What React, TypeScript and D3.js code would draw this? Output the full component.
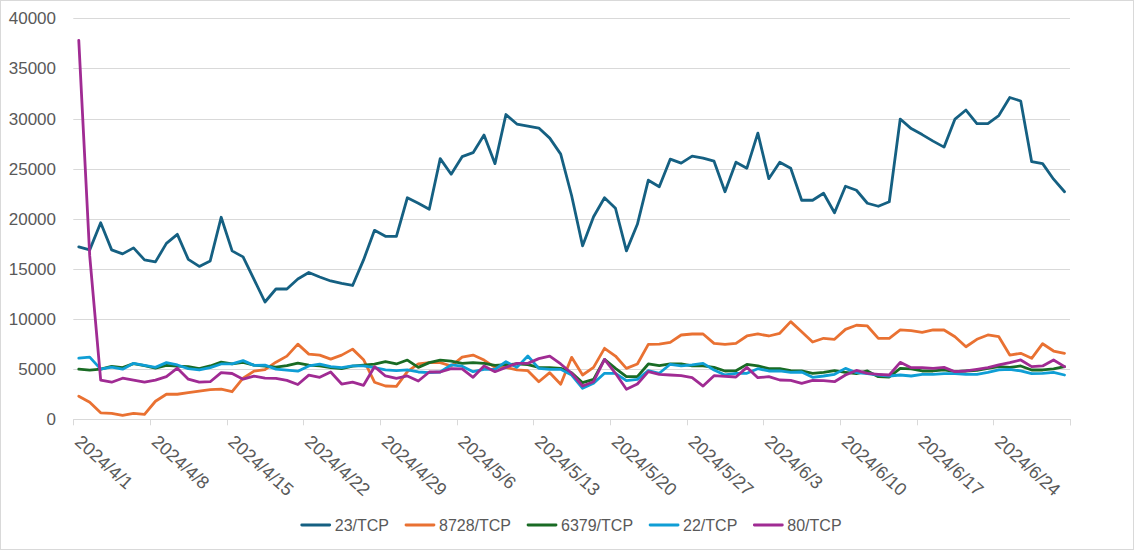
import { useEffect, useRef } from 'react';
import * as d3 from 'd3';

const W = 1134;
const H = 550;

// one point per day, 2024/4/1 .. 2024/6/30
const days = d3.timeDay.range(new Date(2024, 3, 1), new Date(2024, 6, 1));
const tickLabels = [
  '2024/4/1', '2024/4/8', '2024/4/15', '2024/4/22', '2024/4/29', '2024/5/6', '2024/5/13',
  '2024/5/20', '2024/5/27', '2024/6/3', '2024/6/10', '2024/6/17', '2024/6/24',
];
const yTicks = [0, 5000, 10000, 15000, 20000, 25000, 30000, 35000, 40000];

const port23 = [
  17200, 16900, 19600, 16900, 16500, 17100, 15900, 15700, 17550, 18450, 15950, 15250, 15800, 20150,
  16800, 16200, 13950, 11700, 13000, 13000, 14000, 14650, 14200, 13800, 13550, 13350, 15900, 18850,
  18250, 18250, 22100, 21550, 20950, 26000, 24450, 26200, 26600, 28350, 25500, 30400, 29450, 29250,
  29050, 28050, 26450, 22300, 17300, 20200, 22100, 21050, 16800, 19450, 23850, 23200, 25950, 25550,
  26250, 26050, 25750, 22700, 25650, 25050, 28550, 24000, 25650, 25050, 21850, 21850, 22550, 20600,
  23250, 22850, 21550, 21250, 21700, 29950, 29000, 28400, 27750, 27150, 29950, 30850, 29500, 29500,
  30300, 32100, 31750, 25700, 25500, 23950, 22700,
];
const port8728 = [
  2300, 1700, 650, 600, 400, 600, 500, 1800, 2500, 2500, 2650, 2800, 2950, 3000,
  2750, 4100, 4800, 4950, 5700, 6300, 7500, 6500, 6400, 6000, 6400, 7000, 5950, 3700,
  3320, 3290, 4750, 5520, 5650, 5650, 5320, 6200, 6410, 5910, 5180, 5180, 4920, 4850,
  3750, 4650, 3490, 6180, 4420, 5180, 7080, 6310, 5080, 5520, 7480, 7500, 7680, 8410,
  8510, 8510, 7580, 7480, 7580, 8310, 8510, 8310, 8580, 9740, 8740, 7710, 8080, 7980,
  8970, 9380, 9310, 8070, 8070, 8910, 8840, 8680, 8910, 8910, 8240, 7240, 7980, 8410,
  8240, 6410, 6580, 6080, 7540, 6810, 6580,
];
const port6379 = [
  5000, 4900, 5000, 5280, 5160, 5550, 5350, 5100, 5380, 5300, 5250, 5050, 5320, 5700,
  5520, 5670, 5400, 5300, 5200, 5350, 5600, 5400, 5320, 5150, 5050, 5300, 5400, 5500,
  5750, 5520, 5910, 5180, 5650, 5910, 5810, 5580, 5650, 5580, 5380, 5450, 5520, 5450,
  5180, 5150, 5080, 4650, 3650, 3990, 5980, 5080, 4250, 4250, 5520, 5350, 5520, 5520,
  5320, 5320, 5180, 4820, 4850, 5480, 5320, 5050, 5050, 4850, 4820, 4590, 4690, 4850,
  4690, 4550, 4820, 4250, 4220, 5080, 5020, 4820, 4820, 4920, 4750, 4820, 4880, 5080,
  5250, 5180, 5320, 4920, 4920, 5020, 5250,
];
const port22 = [
  6100, 6200, 5000, 5200, 5000, 5580, 5380, 5180, 5650, 5420, 5050, 4920, 5150, 5520,
  5520, 5850, 5380, 5400, 5000, 4900, 4800, 5320, 5500, 5250, 5150, 5320, 5330, 5150,
  4920, 4850, 4920, 4720, 4650, 4720, 5420, 5300, 4750, 4980, 4980, 5750, 5180, 6310,
  5080, 4980, 4980, 4420, 3090, 3590, 4590, 4590, 3850, 3990, 4850, 4590, 5490, 5320,
  5420, 5580, 4920, 4420, 4590, 4590, 5050, 4820, 4820, 4690, 4720, 4190, 4320, 4490,
  5080, 4650, 4550, 4420, 4320, 4420, 4320, 4490, 4490, 4550, 4550, 4490, 4490, 4680,
  4920, 4980, 4820, 4550, 4580, 4680, 4420,
];
const port80 = [
  37800, 16300, 3900, 3700, 4100, 3900, 3700, 3900, 4250, 5100, 4000, 3700, 3750, 4650,
  4570, 4000, 4300, 4100, 4090, 3880, 3470, 4400, 4190, 4720, 3520, 3700, 3390, 5250,
  4320, 4090, 4320, 3820, 4720, 4720, 5050, 5030, 4190, 5320, 4750, 5180, 5580, 5580,
  6050, 6310, 5520, 4590, 3320, 3750, 5980, 4590, 2990, 3520, 4750, 4480, 4420, 4350,
  4150, 3320, 4350, 4290, 4220, 5180, 4150, 4250, 3920, 3890, 3590, 3890, 3850, 3750,
  4420, 4870, 4580, 4490, 4420, 5680, 5150, 5150, 5080, 5180, 4750, 4820, 4980, 5150,
  5420, 5650, 5920, 5250, 5320, 5920, 5250,
];

const seriesNames = ['23/TCP', '8728/TCP', '6379/TCP', '22/TCP', '80/TCP'];
const seriesValues = [port23, port8728, port6379, port22, port80];
const colors = ['#156082', '#E97132', '#196B24', '#0F9ED5', '#A02B93'];

const FONT = '"Liberation Sans", Arial, sans-serif';

export default function App() {
  const svgRef = useRef<SVGSVGElement>(null);

  useEffect(() => {
    if (!svgRef.current) return;
    const svg = d3.select(svgRef.current);
    svg.selectAll('*').remove();

    const left = 73.3;
    const right = 1070;
    const top = 18.3;
    const bottom = 419.3;

    const x = d3.scaleBand<number>().domain(days.map((_, i) => i)).range([left, right]).padding(0);
    const y = d3.scaleLinear().domain([0, 40000]).range([bottom, top]);
    const cx = (i: number) => (x(i) ?? 0) + x.bandwidth() / 2;

    svg.append('rect').attr('x', 0.5).attr('y', 0.5).attr('width', W - 1).attr('height', H - 1)
      .attr('fill', '#fff').attr('stroke', '#d9d9d9');

    // gridlines + y labels
    const grid = svg.append('g');
    grid.selectAll('line').data(yTicks).join('line')
      .attr('x1', left).attr('x2', right)
      .attr('y1', (d) => Math.round(y(d)) + 0.5).attr('y2', (d) => Math.round(y(d)) + 0.5)
      .attr('stroke', '#d9d9d9').attr('stroke-width', 1);
    grid.selectAll('text').data(yTicks).join('text')
      .attr('x', 56).attr('y', (d) => y(d)).attr('dy', '0.35em')
      .attr('text-anchor', 'end').attr('font-family', FONT).attr('font-size', 17)
      .attr('fill', '#595959').text((d) => d);

    // x ticks every 7 days, plus the end of the axis
    const tickIdx = d3.range(0, days.length + 1, 7);
    const tickX = (i: number) => (i < days.length ? (x(i) ?? 0) : right);
    svg.append('g').selectAll('line').data([...tickIdx, days.length]).join('line')
      .attr('x1', (d) => Math.round(tickX(d)) + 0.5).attr('x2', (d) => Math.round(tickX(d)) + 0.5)
      .attr('y1', bottom).attr('y2', bottom + 6)
      .attr('stroke', '#d9d9d9');

    svg.append('g').selectAll('text').data(tickLabels).join('text')
      .attr('transform', (_, k) => `translate(${cx(k * 7) - 5},${bottom + 24}) rotate(42)`)
      .attr('font-family', FONT).attr('font-size', 18).attr('fill', '#595959')
      .text((d) => d);

    // series
    const line = d3.line<number>().x((_, i) => cx(i)).y((d) => y(d));
    svg.append('g').selectAll('path').data(seriesValues).join('path')
      .attr('d', (d) => line(d))
      .attr('fill', 'none')
      .attr('stroke', (_, i) => colors[i])
      .attr('stroke-width', 2.8)
      .attr('stroke-linejoin', 'round')
      .attr('stroke-linecap', 'round');

    // legend, centred under the plot
    const legend = svg.append('g');
    const items = seriesNames.map((name, i) => {
      const g = legend.append('g');
      g.append('line').attr('x1', 0).attr('x2', 28).attr('y1', 0).attr('y2', 0)
        .attr('stroke', colors[i]).attr('stroke-width', 2.8).attr('stroke-linecap', 'round');
      const t = g.append('text').attr('x', 33).attr('dy', '0.35em')
        .attr('font-family', FONT).attr('font-size', 16).attr('fill', '#595959').text(name);
      const w = 33 + (t.node() as SVGTextElement).getComputedTextLength();
      return { g, w };
    });
    const gap = 17;
    const total = d3.sum(items, (d) => d.w) + gap * (items.length - 1);
    let pos = (left + right) / 2 - total / 2;
    items.forEach(({ g, w }) => {
      g.attr('transform', `translate(${pos},525)`);
      pos += w + gap;
    });
  }, []);

  return (
    <svg ref={svgRef} width={W} height={H}
      style={{ position: 'absolute', left: 0, top: 0, background: '#fff' }} />
  );
}
